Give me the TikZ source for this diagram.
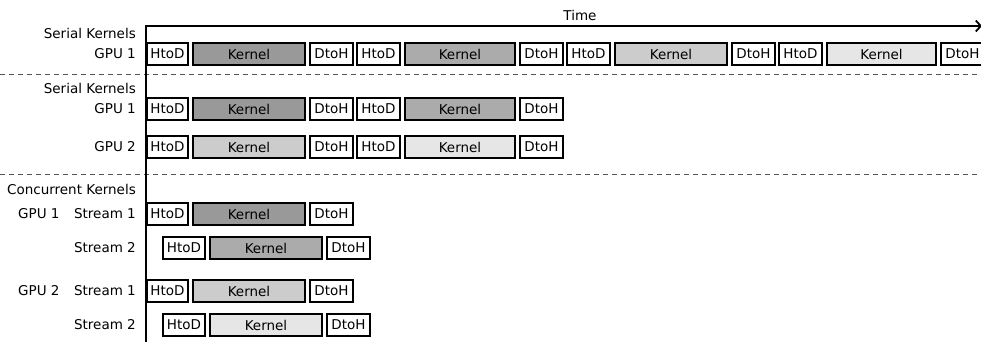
\documentclass[tikz,border=0pt]{standalone}
\usepackage{fontspec}
\setmainfont{DejaVu Sans}
\usetikzlibrary{arrows.meta}
\definecolor{kA}{HTML}{999999}
\definecolor{kB}{HTML}{ABABAB}
\definecolor{kC}{HTML}{CCCCCC}
\definecolor{kD}{HTML}{E6E6E6}
\definecolor{dashgray}{HTML}{555555}
\tikzset{
  box/.style={draw=black, line width=1.8pt, inner sep=0pt, minimum height=22pt, font=\fontsize{13.5}{16}\selectfont},
  lbl/.style={inner sep=0pt, anchor=east, font=\fontsize{13.5}{16}\selectfont},
  lbll/.style={inner sep=0pt, anchor=west, font=\fontsize{13.5}{16}\selectfont},
  sep/.style={dashgray, line width=0.8pt, dash pattern=on 5pt off 4pt},
  axis/.style={line width=1.8pt, -{Straight Barb[length=5pt,width=11pt,line width=1.8pt]}},
}
% \bx{name}{left}{right}{y}{fill}{text}
\newcommand{\bx}[6]{\node[box, fill=#5, minimum width={(#3)-(#2)-1.8pt}] (#1) at ({((#2)+(#3))/2}, #4) {#6};}
\newcommand{\serialrow}[5]{% prefix, y, fill1, fill2, n
  \bx{#1a}{146}{189}{#2}{white}{HtoD}
  \bx{#1b}{192}{306}{#2}{#3}{Kernel}
  \bx{#1c}{309}{354}{#2}{white}{DtoH}
  \bx{#1d}{356}{401}{#2}{white}{HtoD}
  \bx{#1e}{404}{516}{#2}{#4}{Kernel}
  \bx{#1f}{519}{564}{#2}{white}{DtoH}
}
\begin{document}
\begin{tikzpicture}[x=1pt, y=-1pt]
\useasboundingbox (0,0) rectangle (981,341);

% time axis
\coordinate (origin) at (146,26);
\coordinate (tend) at (982,26);
\coordinate (bot) at (146,342);
\node[inner sep=0pt, font=\fontsize{13.5}{16}\selectfont] (time) at (580,15) {Time};

% separators
\coordinate (s1l) at (0,74);   \coordinate (s1r) at (981,74);
\coordinate (s2l) at (0,174);  \coordinate (s2r) at (981,174);
\draw[sep] (s1l) -- (s1r);
\draw[sep] (s2l) -- (s2r);

% section 1
\node[lbl] (t1) at (136,33) {Serial Kernels};
\node[lbl] (g1) at (136,54) {GPU 1};
\serialrow{r}{54}{kA}{kB}{}
\bx{rg}{566}{611}{54}{white}{HtoD}
\bx{rh}{614}{728}{54}{kC}{Kernel}
\bx{ri}{731}{776}{54}{white}{DtoH}
\bx{rj}{778}{823}{54}{white}{HtoD}
\bx{rk}{826}{937}{54}{kD}{Kernel}
\bx{rl}{940}{985}{54}{white}{DtoH}

% section 2
\node[lbl] (t2) at (136,88) {Serial Kernels};
\node[lbl] (g21) at (136,109) {GPU 1};
\node[lbl] (g22) at (136,147) {GPU 2};
\serialrow{p}{109}{kA}{kB}{}
\serialrow{q}{147}{kC}{kD}{}

% section 3
\node[lbl] (t3) at (136,189) {Concurrent Kernels};
\node[lbll] (c1) at (18,214) {GPU 1};
\node[lbl] (c1s1) at (136,214) {Stream 1};
\node[lbl] (c1s2) at (136,248) {Stream 2};
\node[lbll] (c2) at (18,291) {GPU 2};
\node[lbl] (c2s1) at (136,291) {Stream 1};
\node[lbl] (c2s2) at (136,325) {Stream 2};

\bx{ua}{146}{189}{214}{white}{HtoD}
\bx{ub}{192}{306}{214}{kA}{Kernel}
\bx{uc}{309}{354}{214}{white}{DtoH}
\bx{va}{162}{206}{248}{white}{HtoD}
\bx{vb}{209}{323}{248}{kB}{Kernel}
\bx{vc}{326}{371}{248}{white}{DtoH}
\bx{wa}{146}{189}{291}{white}{HtoD}
\bx{wb}{192}{306}{291}{kC}{Kernel}
\bx{wc}{309}{354}{291}{white}{DtoH}
\bx{xa}{162}{206}{325}{white}{HtoD}
\bx{xb}{209}{323}{325}{kD}{Kernel}
\bx{xc}{326}{371}{325}{white}{DtoH}

\draw[axis] (bot) -- (origin) -- (tend);
\end{tikzpicture}
\end{document}
